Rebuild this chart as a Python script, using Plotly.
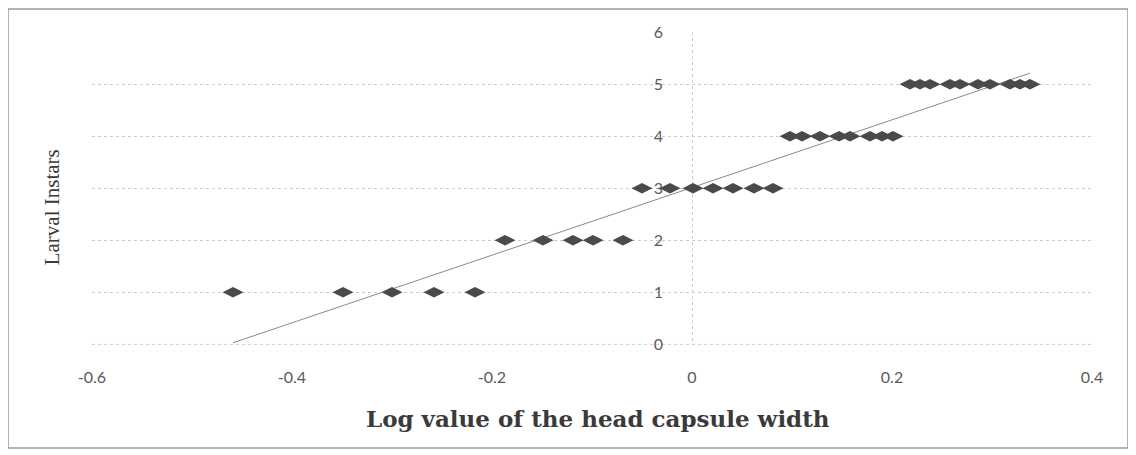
import numpy as np
import plotly.graph_objects as go

# Data
instar_1_x = [-0.459, -0.349, -0.300, -0.258, -0.217]
instar_2_x = [-0.187, -0.149, -0.119, -0.099, -0.069]
instar_3_x = [-0.050, -0.022, 0.001, 0.021, 0.041, 0.062, 0.081]
instar_4_x = [0.098, 0.110, 0.128, 0.147, 0.158, 0.178, 0.190, 0.201]
instar_5_x = [0.218, 0.228, 0.238, 0.258, 0.268, 0.286, 0.298, 0.318, 0.328, 0.338]
instar_levels = [1, 2, 3, 4, 5]

x_tick_vals = [-0.6, -0.4, -0.2, 0, 0.2, 0.4]
x_tick_text = ["-0.6", "-0.4", "-0.2", "0", "0.2", "0.4"]
y_tick_vals = [0, 1, 2, 3, 4, 5, 6]

x_title = "Log value of the head capsule width"
y_title = "Larval Instars"

groups = [instar_1_x, instar_2_x, instar_3_x, instar_4_x, instar_5_x]
xs = []
ys = []
for lvl, g in zip(instar_levels, groups):
    xs += g
    ys += [lvl] * len(g)
xs = np.array(xs)
ys = np.array(ys)

# linear trendline (least squares), drawn across the data range
slope, intercept = np.polyfit(xs, ys, 1)
tx = np.array([xs.min(), xs.max()])
ty = slope * tx + intercept

fig = go.Figure()
fig.add_trace(go.Scatter(
    x=tx, y=ty, mode="lines",
    line=dict(color="#8a8a8a", width=1),
    hoverinfo="skip", showlegend=False,
))
fig.add_trace(go.Scatter(
    x=xs, y=ys, mode="markers",
    marker=dict(symbol="diamond-wide", size=15, color="#4a4a4a",
                line=dict(width=0)),
    showlegend=False,
))

tick_font = dict(family="Lato, 'Open Sans', sans-serif", size=16, color="#5a5a5a")
grid_color = "#cccccc"

fig.update_layout(
    width=1136, height=455,
    margin=dict(l=84, r=52, t=24, b=118),
    paper_bgcolor="white", plot_bgcolor="white",
    xaxis=dict(
        range=[-0.6, 0.4], tickmode="array", tickvals=x_tick_vals,
        ticktext=x_tick_text, showgrid=False, zeroline=False,
        showline=False, ticks="", tickfont=tick_font,
        ticklabelstandoff=21,
        minor=dict(tickmode="array", tickvals=[0], showgrid=True,
                   gridcolor=grid_color, griddash="dot", gridwidth=1),
    ),
    yaxis=dict(
        range=[-0.012, 6.005], tickmode="array", tickvals=y_tick_vals,
        showgrid=True, gridcolor=grid_color, griddash="dot", gridwidth=1,
        zeroline=False, showline=False, ticks="",
        anchor="free", position=0.6, tickfont=tick_font,
        ticklabelstandoff=29,
    ),
    annotations=[
        dict(text=x_title, xref="paper", yref="paper", x=0.506, y=-0.235,
             showarrow=False, xanchor="center", yanchor="middle",
             font=dict(family="'DejaVu Serif', serif", size=23,
                       color="#3a3a3a", weight="bold")),
        dict(text=y_title, xref="paper", yref="paper", x=-0.04, y=0.44,
             showarrow=False, textangle=-90, xanchor="center", yanchor="middle",
             font=dict(family="'Liberation Serif', serif", size=21,
                       color="#3a3a3a")),
    ],
    shapes=[
        dict(type="rect", xref="paper", yref="paper",
             x0=-0.084, x1=1.036, y0=-0.329, y1=1.0735,
             line=dict(color="#9a9a9a", width=1.5), fillcolor="rgba(0,0,0,0)",
             layer="below"),
        # baseline gridline at y = 0
        dict(type="line", xref="paper", yref="y", x0=0, x1=1,
             y0=y_tick_vals[0], y1=y_tick_vals[0],
             line=dict(color=grid_color, width=1, dash="dot"), layer="below"),
    ],
)

fig.write_html("out.html")
